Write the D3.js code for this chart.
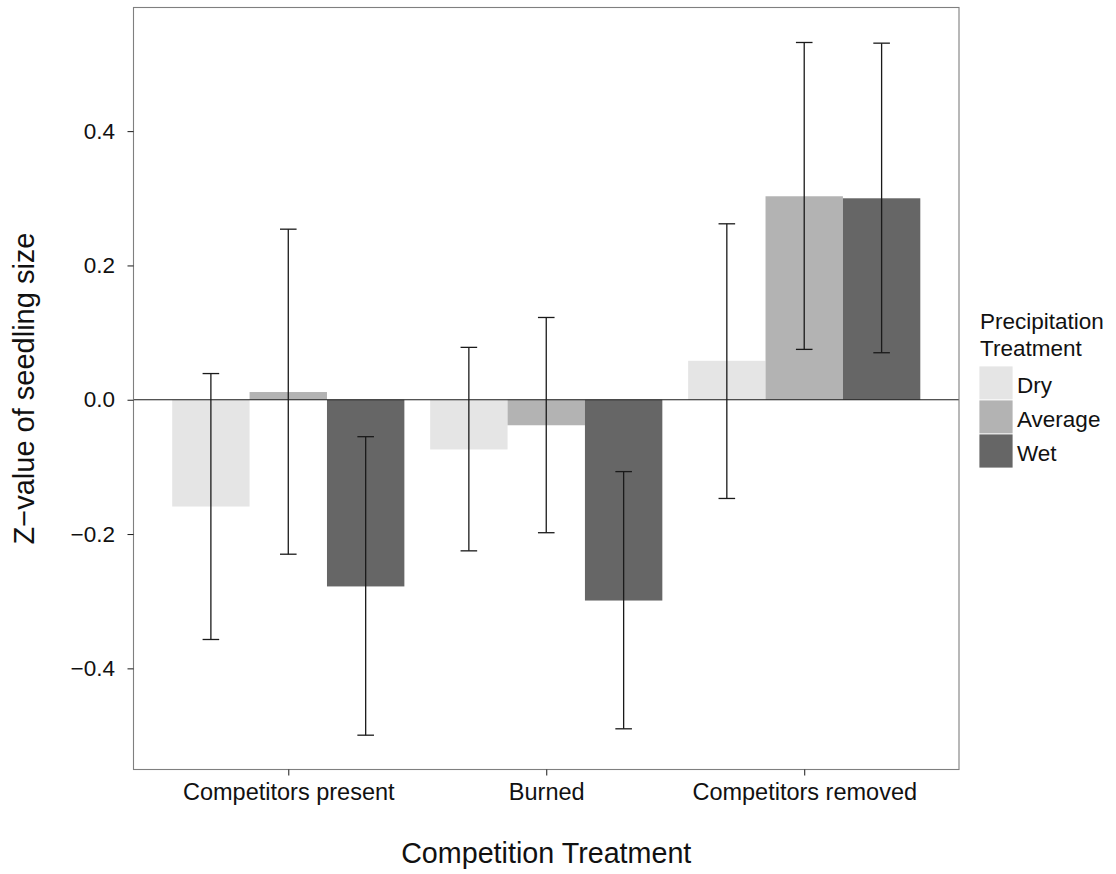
<!DOCTYPE html>
<html>
<head>
<meta charset="utf-8">
<script src="https://cdn.jsdelivr.net/npm/d3@7"></script>
<style>
  body { margin: 0; background: #fff; }
  text { font-family: "Liberation Sans", Arial, Helvetica, sans-serif; }
</style>
</head>
<body>
<div id="chart"></div>
<script>
// competition treatment x precipitation treatment, mean z-value with error bars
const categories = ["Competitors present", "Burned", "Competitors removed"];
const treatments = ["Dry", "Average", "Wet"];
const treatmentColors = ["#e5e5e5", "#b3b3b3", "#666666"];

const dryValues = [-0.159, -0.074, 0.058];
const averageValues = [0.0115, -0.038, 0.303];
const wetValues = [-0.278, -0.299, 0.300];

const dryLower = [-0.357, -0.225, -0.147];
const dryUpper = [0.039, 0.078, 0.262];
const averageLower = [-0.230, -0.198, 0.075];
const averageUpper = [0.254, 0.1225, 0.532];
const wetLower = [-0.4995, -0.490, 0.070];
const wetUpper = [-0.055, -0.107, 0.531];

const yTicks = [-0.4, -0.2, 0.0, 0.2, 0.4];

const width = 1116, height = 874;
const margin = {left: 133.5, top: 7.5, right: 1116 - 959, bottom: 874 - 769.5};
const innerW = width - margin.left - margin.right;
const innerH = height - margin.top - margin.bottom;

const svg = d3.select("#chart").append("svg")
    .attr("width", width)
    .attr("height", height);

const g = svg.append("g")
    .attr("transform", `translate(${margin.left},${margin.top})`);

// build rows from the arrays
const series = [
    {name: "Dry", values: dryValues, lo: dryLower, hi: dryUpper},
    {name: "Average", values: averageValues, lo: averageLower, hi: averageUpper},
    {name: "Wet", values: wetValues, lo: wetLower, hi: wetUpper}
];
const rows = [];
categories.forEach((c, i) => {
    series.forEach(s => {
        rows.push({cat: c, trt: s.name, v: s.values[i], lo: s.lo[i], hi: s.hi[i]});
    });
});

// ggplot style discrete scale: 0.6 units expansion each side, groups 0.9 wide
const unit = innerW / 3.2;
const x = d3.scalePoint()
    .domain(categories)
    .range([0.6 * unit, 2.6 * unit]);
const xInner = d3.scaleBand()
    .domain(treatments)
    .range([-0.45 * unit, 0.45 * unit]);

const y = d3.scaleLinear()
    .domain([-0.5506, 0.5841])
    .range([innerH, 0]);

const color = d3.scaleOrdinal().domain(treatments).range(treatmentColors);

// bars
g.append("g")
    .selectAll("rect")
    .data(rows)
    .enter().append("rect")
    .attr("x", d => x(d.cat) + xInner(d.trt))
    .attr("width", xInner.bandwidth())
    .attr("y", d => y(Math.max(0, d.v)))
    .attr("height", d => Math.abs(y(d.v) - y(0)))
    .attr("fill", d => color(d.trt));

// zero line
g.append("line")
    .attr("x1", 0).attr("x2", innerW)
    .attr("y1", y(0)).attr("y2", y(0))
    .attr("stroke", "#1a1a1a")
    .attr("stroke-width", 1.2);

// error bars
const capHalf = 8.3;
const eb = g.append("g")
    .selectAll("g")
    .data(rows)
    .enter().append("g")
    .attr("stroke", "#1a1a1a")
    .attr("stroke-width", 1.3);
const ebX = d => x(d.cat) + xInner(d.trt) + xInner.bandwidth() / 2;
eb.append("line")
    .attr("x1", ebX).attr("x2", ebX)
    .attr("y1", d => y(d.lo)).attr("y2", d => y(d.hi));
eb.append("line")
    .attr("x1", d => ebX(d) - capHalf).attr("x2", d => ebX(d) + capHalf)
    .attr("y1", d => y(d.hi)).attr("y2", d => y(d.hi));
eb.append("line")
    .attr("x1", d => ebX(d) - capHalf).attr("x2", d => ebX(d) + capHalf)
    .attr("y1", d => y(d.lo)).attr("y2", d => y(d.lo));

// panel border
g.append("rect")
    .attr("x", 0).attr("y", 0)
    .attr("width", innerW).attr("height", innerH)
    .attr("fill", "none")
    .attr("stroke", "#7f7f7f")
    .attr("stroke-width", 1.1);

// y axis
const yAxis = g.append("g")
    .call(d3.axisLeft(y).tickValues(yTicks).tickSize(6).tickPadding(12.5)
        .tickFormat(d => d === 0 ? "0.0" : d3.format(".1f")(d).replace("-", "\u2212")));
yAxis.select(".domain").remove();
yAxis.selectAll(".tick line").attr("stroke", "#1a1a1a");
yAxis.selectAll(".tick text")
    .attr("font-size", "22.5px")
    .attr("fill", "#111")
    .attr("font-family", "Liberation Sans, Arial, sans-serif");

// x axis
const xAxis = g.append("g")
    .attr("transform", `translate(0,${innerH})`)
    .call(d3.axisBottom(x).tickSize(6).tickPadding(7.5));
xAxis.select(".domain").remove();
xAxis.selectAll(".tick line").attr("stroke", "#1a1a1a");
xAxis.selectAll(".tick text")
    .attr("font-size", "23.5px")
    .attr("fill", "#111")
    .attr("font-family", "Liberation Sans, Arial, sans-serif");

// axis titles
svg.append("text")
    .attr("x", margin.left + innerW / 2)
    .attr("y", 863)
    .attr("text-anchor", "middle")
    .attr("font-size", "28.7px")
    .attr("fill", "#111")
    .text("Competition Treatment");

svg.append("text")
    .attr("transform", `translate(34,${margin.top + innerH / 2}) rotate(-90)`)
    .attr("text-anchor", "middle")
    .attr("font-size", "29px")
    .attr("fill", "#111")
    .text("Z\u2212value of seedling size");

// legend
const legend = svg.append("g").attr("transform", "translate(979,0)");
legend.append("text")
    .attr("x", 1).attr("y", 328.5)
    .attr("font-size", "22.5px").attr("fill", "#111")
    .text("Precipitation");
legend.append("text")
    .attr("x", 1).attr("y", 356)
    .attr("font-size", "22.5px").attr("fill", "#111")
    .text("Treatment");
const key = legend.selectAll(".key")
    .data(treatments)
    .enter().append("g")
    .attr("class", "key")
    .attr("transform", (d, i) => `translate(0,${366 + i * 34})`);
key.append("rect")
    .attr("width", 34).attr("height", 34)
    .attr("fill", d => color(d))
    .attr("stroke", "#fff")
    .attr("stroke-width", 0.8);
key.append("text")
    .attr("x", 38).attr("y", 26.5)
    .attr("font-size", "22.5px").attr("fill", "#111")
    .text(d => d);
</script>
</body>
</html>
